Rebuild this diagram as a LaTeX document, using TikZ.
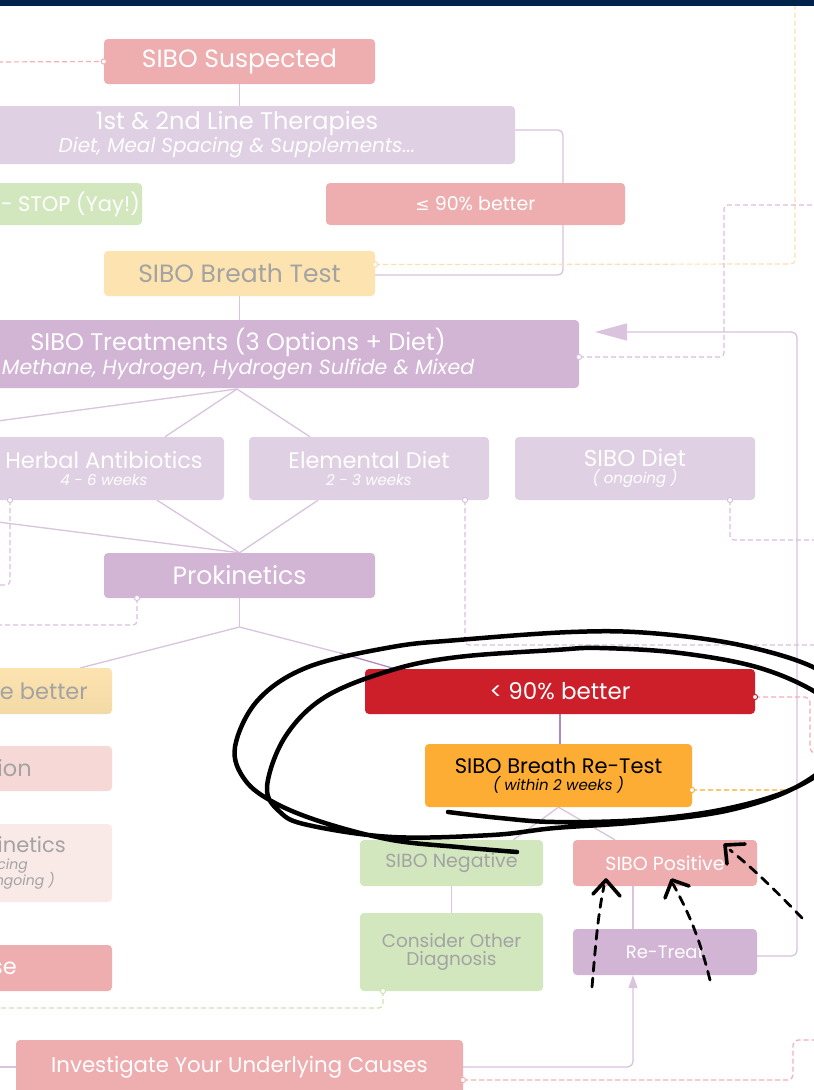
\documentclass[tikz,border=0pt]{standalone}
\usepackage{fontspec}
\setmainfont{Poppins}
\newfontfamily\symfont{DejaVu Sans}
\usetikzlibrary{arrows.meta,calc}
\pgfdeclarelayer{back}
\pgfdeclarelayer{bg}
\pgfsetlayers{back,bg,main}

\definecolor{navy}{HTML}{00234B}
\definecolor{pinkbox}{HTML}{EEAEB0}
\definecolor{lilaclight}{HTML}{DFD0E3}
\definecolor{lilacmid}{HTML}{D2B4D4}
\definecolor{greenbox}{HTML}{D3E7BF}
\definecolor{creambox}{HTML}{FCE3B0}
\definecolor{creamdark}{HTML}{F3D9A5}
\definecolor{redbox}{HTML}{CC1F2A}
\definecolor{orangebox}{HTML}{FDAD33}
\definecolor{blushbox}{HTML}{F6D9D6}
\definecolor{palebox}{HTML}{F9EAE8}
\definecolor{greytext}{HTML}{A3A3A3}
\definecolor{linec}{HTML}{D9C3DD}
\definecolor{linedark}{HTML}{B08AC0}
\definecolor{dashpink}{HTML}{F2AFB4}
\definecolor{dashorange}{HTML}{FDDFAE}
\definecolor{dashlilac}{HTML}{D9C0DD}
\definecolor{dashgreen}{HTML}{CBE3B3}

\tikzset{
  box/.style={rounded corners=4pt, inner sep=0pt, align=center, text=white},
  conn/.style={draw=linec, line width=1.3pt},
  dconn/.style={line width=1.2pt, dash pattern=on 5pt off 3pt},
  hand/.style={line width=4.5pt, line cap=round, line join=round, draw=black},
  handarrow/.style={line width=2.8pt, dash pattern=on 9pt off 7pt, line cap=round, draw=black},
  handhead/.style={line width=3.6pt, line cap=round, line join=round, draw=black},
}
\newcommand\portdot[2]{\fill[white,draw=#1,line width=1pt] (#2) circle (2.6pt);}
\newcommand\fs[2]{\fontsize{#1}{#2}\selectfont}

\begin{document}
\begin{tikzpicture}[x=1pt,y=-1pt]
\useasboundingbox (0,0) rectangle (814,1090);
\clip (0,0) rectangle (814,1090);
\begin{pgfonlayer}{back}
  \fill[white] (0,0) rectangle (814,1090);
\end{pgfonlayer}
\fill[navy] (0,0) rectangle (814,6);

% ---- boxes ----
\node[box, fill=pinkbox, minimum width=271pt, minimum height=45pt,
      font=\fs{25}{28}] (susp) at (239.5,61.5) {SIBO Suspected};
\node[box, fill=lilaclight, minimum width=556pt, minimum height=58pt, font=\fs{24}{23}] (lines) at (237,135)
  {1st \& 2nd Line Therapies\\{\fs{20}{23}\itshape Diet, Meal Spacing \& Supplements...}};
\node[box, fill=greenbox, minimum width=302pt, minimum height=42pt] (stop) at (-9,204) {};
\node[anchor=east, inner sep=0pt, text=white, font=\fs{21}{24}] (stoptxt) at (140,204) {- STOP (Yay!)};
\node[box, fill=pinkbox, minimum width=299pt, minimum height=42pt,
      font=\fs{19}{22}] (le90) at (475.5,204) {{\symfont\fs{17}{20}≤} 90\% better};
\node[box, fill=creambox, minimum width=271pt, minimum height=45pt, text=greytext,
      font=\fs{25}{28}] (breath) at (239.5,273.5) {SIBO Breath Test};
\node[box, fill=lilacmid, minimum width=682pt, minimum height=68pt, font=\fs{24}{24}] (treat) at (238,354)
  {SIBO Treatments (3 Options + Diet)\\{\fs{20.5}{24}\itshape Methane, Hydrogen, Hydrogen Sulfide \& Mixed}};
\node[box, fill=lilaclight, minimum width=240pt, minimum height=63pt, font=\fs{22.5}{17}] (herbal) at (104,468.5)
  {Herbal Antibiotics\\{\fs{15}{17}\itshape 4 - 6 weeks}};
\node[box, fill=lilaclight, minimum width=240pt, minimum height=63pt, font=\fs{22.5}{17}] (elem) at (369,468.5)
  {Elemental Diet\\{\fs{15}{17}\itshape 2 - 3 weeks}};
\node[box, fill=lilaclight, minimum width=240pt, minimum height=63pt, font=\fs{23}{17}] (sdiet) at (635,468.5)
  {SIBO Diet\\{\fs{15}{17}\itshape ( ongoing )}};
\node[box, fill=lilacmid, minimum width=271pt, minimum height=45pt,
      font=\fs{25}{28}] (prok) at (239.5,575.5) {Prokinetics};

% left column, partly outside the page
\shade[rounded corners=4pt, top color=creambox, bottom color=creamdark] (-180,668) rectangle (112,714);
\node[inner sep=0pt, minimum width=292pt, minimum height=46pt] (better) at (-34,691) {};
\node[anchor=east, inner sep=0pt, text=greytext, font=\fs{22.5}{26}] (bettertxt) at (88,691) {e better};
\node[box, fill=blushbox, minimum width=292pt, minimum height=45pt] (ion) at (-34,768.5) {};
\node[anchor=east, inner sep=0pt, text=greytext, font=\fs{22.5}{26}] (iontxt) at (32,768.5) {ion};
\node[box, fill=palebox, minimum width=292pt, minimum height=78pt] (kin) at (-34,863) {};
\node[anchor=east, inner sep=0pt, text=greytext, font=\fs{21}{24}] (kintxt) at (66,845) {inetics};
\node[anchor=east, inner sep=0pt, text=greytext, font=\fs{14}{16}\itshape] (kintxtb) at (28,866) {cing};
\node[anchor=east, inner sep=0pt, text=greytext, font=\fs{14}{16}\itshape] (kintxtc) at (55,881) {ngoing )};
\node[box, fill=pinkbox, minimum width=292pt, minimum height=46pt] (se) at (-34,968) {};
\node[anchor=east, inner sep=0pt, text=white, font=\fs{22.5}{26}] (setxt) at (17,968) {se};

% right column
\node[box, fill=redbox, minimum width=390pt, minimum height=45pt,
      font=\fs{23}{26}] (lt90) at (560,691.5) {< 90\% better};
\node[box, fill=orangebox, minimum width=267pt, minimum height=63pt, text=black, font=\fs{21}{17}] (retest) at (558.5,775.5)
  {SIBO Breath Re-Test\\{\fs{15}{17}\itshape ( within 2 weeks )}};
\node[box, fill=greenbox, minimum width=183pt, minimum height=46pt, text=greytext,
      font=\fs{19}{22}] (neg) at (451.5,863) {SIBO Negative};
\node[box, fill=pinkbox, minimum width=184pt, minimum height=46pt,
      font=\fs{19}{22}] (pos) at (665,863) {SIBO Positive};
\node[box, fill=greenbox, minimum width=183pt, minimum height=78pt, text=greytext,
      font=\fs{18.5}{18}] (cod) at (451.5,952) {Consider Other\\Diagnosis};
\node[box, fill=lilacmid, minimum width=184pt, minimum height=46pt,
      font=\fs{18}{21}] (retreat) at (665,952) {Re-Treat};
\node[box, fill=pinkbox, minimum width=447pt, minimum height=54pt,
      font=\fs{21.3}{25}] (invest) at (239.5,1067) {Investigate Your Underlying Causes};

% ---- connectors, behind the boxes ----
\begin{pgfonlayer}{bg}
  \draw[conn] (susp.south) -- (susp.south |- lines.north);
  \draw[conn, rounded corners=5pt] ([yshift=5pt]lines.east) -- (563,130) -- (563,275) -- (breath.south east |- 0,275);
  \draw[conn] (breath.south) -- (breath.south |- treat.north);
  \coordinate (treatfoot) at (237,389);
  \coordinate (leftin) at (-10,422);
  \draw[conn] (treatfoot) -- ([xshift=61pt]herbal.north);
  \draw[conn] (treatfoot) -- ([xshift=-59pt]elem.north);
  \draw[conn] (treatfoot) -- (leftin);
  \coordinate (leftin2) at (-10,521);
  \draw[conn] ([xshift=53pt]herbal.south) -- (prok.north);
  \draw[conn] ([xshift=-51pt]elem.south) -- (prok.north);
  \draw[conn] (leftin2) -- (prok.north);
  \coordinate (prokfoot) at (239.5,627);
  \draw[conn] (prok.south) -- (prokfoot);
  \draw[conn] (prokfoot) -- (80,668);
  \draw[conn] (prokfoot) -- (340,653);
  \draw[linedark, line width=1.3pt] (340,653) -- ([xshift=-165pt]lt90.north);
  \draw[linedark, line width=1.3pt] (lt90.south) -- (lt90.south |- retest.north);
  \draw[conn] (retest.south) -- ([xshift=62pt]neg.north);
  \draw[conn] (retest.south) -- ([xshift=-50pt]pos.north);
  \draw[conn] (neg.south) -- (cod.north);
  \draw[conn] ([xshift=-32pt]pos.south) -- ([xshift=-32pt]retreat.north);
  \draw[conn, rounded corners=6pt, -{Triangle[length=32pt,width=17pt]}] ([yshift=-4pt]retreat.east) -- (797,956) -- (797,332) -- (595,332);
  \draw[conn, rounded corners=6pt, -{Triangle[length=13pt,width=9pt]}] (invest.east) -- (633,1067) -- ([xshift=-32pt]retreat.south);
  \coordinate (leftin3) at (-10,1067);
  \draw[conn] (leftin3) -- (invest.west);

  % dashed links running off the page
  \draw[dconn, dashpink] (-10,62) -- (susp.west);
  \draw[dconn, dashorange, rounded corners=4pt] ([yshift=9pt]breath.east) -- (795,264) -- (795,-10);
  \draw[dconn, dashlilac, rounded corners=4pt] ([yshift=-3pt]treat.east) -- (724,357) -- (724,205) -- (824,205);
  \draw[dconn, dashlilac, rounded corners=4pt] (10,500) -- (10,585) -- (-10,585);
  \draw[dconn, dashlilac, rounded corners=4pt] (465,500) -- (465,645) -- (824,645);
  \draw[dconn, dashlilac, rounded corners=4pt] (730,500) -- (730,540) -- (824,540);
  \draw[dconn, dashlilac, rounded corners=4pt] (137,598) -- (137,625) -- (-10,625);
  \draw[dconn, dashpink, rounded corners=5pt] ([yshift=-5.5pt]lt90.east) -- (810,697) -- (810,753) -- (824,753);
  \draw[dconn, orangebox!70, rounded corners=4pt] (692,790) -- (797,790);
  \draw[dconn, dashgreen, rounded corners=4pt] (383,991) -- (383,1008) -- (-10,1008);
  \draw[dconn, dashpink, rounded corners=5pt] (463,1080) -- (793,1080) -- (793,1040) -- (824,1040);
\end{pgfonlayer}

% ports of the dashed links
\portdot{dashpink}{susp.west}
\portdot{dashorange}{$(breath.east)+(0,-9)$}
\portdot{dashlilac}{579,357}
\portdot{dashlilac}{10,500}
\portdot{dashlilac}{465,500}
\portdot{dashlilac}{730,500}
\portdot{dashlilac}{137,598}
\portdot{redbox}{755,697}
\portdot{orangebox}{692,790}
\portdot{dashgreen}{383,991}
\portdot{dashpink}{463,1080}

% ---- hand-drawn marks ----
\draw[hand] plot[smooth, tension=0.6] coordinates {
  (448,812) (500,818) (555,822) (640,820) (720,810) (790,790) (835,760) (845,725)
  (820,695) (760,668) (680,653) (600,648) (555,650) (458,657) (392,670) (325,697)
  (285,737) (267,787) (280,812) (308,825) (392,837) (492,835) (555,828) (640,822)
  (730,810) (800,785) (845,745) (850,700) (815,668) (740,645) (650,633) (571,632)
  (458,640) (392,647) (308,667) (258,700) (235,747) (245,780) (275,803) (325,823)
  (392,840) (458,847) (517,852)};

\coordinate (ha1) at (592,987);
\coordinate (ha2) at (710,980);
\coordinate (ha3) at (802,918);
\draw[handarrow] (ha1) .. controls (596,940) and (598,915) .. (604,886);
\draw[handhead] (593,894) -- (606,880) -- (620,896);
\draw[handarrow] (ha2) .. controls (700,940) and (690,915) .. (673,884);
\draw[handhead] (665,898) -- (672,880) -- (689,886);
\draw[handarrow] (ha3) .. controls (780,895) and (755,870) .. (730,850);
\draw[handhead] (727,864) -- (725,845) -- (745,844);
\end{tikzpicture}
\end{document}
